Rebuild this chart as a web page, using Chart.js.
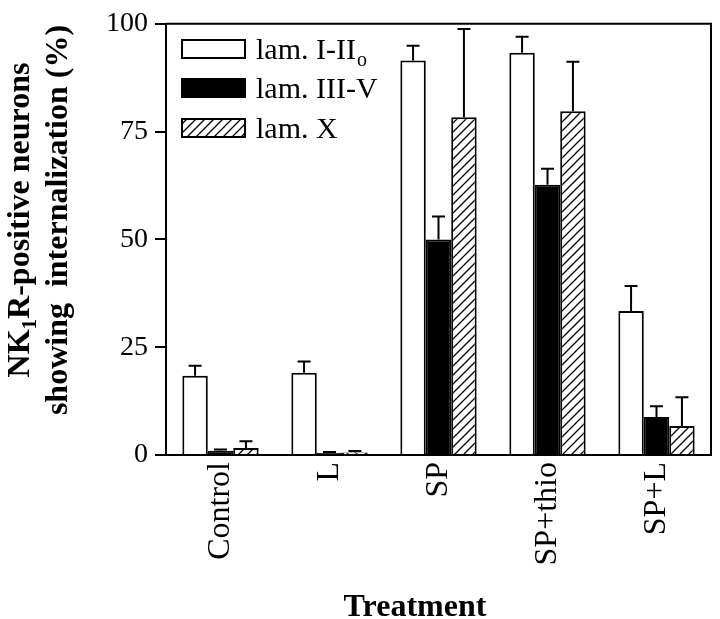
<!DOCTYPE html>
<html>
<head>
<meta charset="utf-8">
<script src="https://cdn.jsdelivr.net/npm/chart.js@4.4.0/dist/chart.umd.min.js"></script>
<style>
body { margin: 0; background: #fff; }
#wrap { width: 720px; height: 619px; }
</style>
</head>
<body>
<div id="wrap"><canvas id="myChart"></canvas></div>
<script>
// datos
var treatments = ['Control', 'L', 'SP', 'SP+thio', 'SP+L'];
var lamI = [18.4, 19.1, 91.5, 93.3, 33.4];
var lamIErr = [2.3, 2.6, 3.4, 3.7, 5.8];
var lamIII = [1.0, 0.5, 50.0, 62.7, 8.8];
var lamIIIErr = [0.3, 0.2, 5.3, 3.7, 2.5];
var lamX = [1.6, 0.6, 78.3, 79.7, 6.7];
var lamXErr = [1.6, 0.3, 20.5, 11.5, 6.7];
var yTicks = [0, 25, 50, 75, 100];
var seriesNames = ['lam. I-II', 'lam. III-V', 'lam. X'];
var seriesSubs = ['o', '', ''];

var serif = "'Liberation Serif', 'Times New Roman', serif";

// patron rayado
function makeHatch() {
    var c = document.createElement('canvas');
    c.width = 9; c.height = 9;
    var g = c.getContext('2d');
    g.fillStyle = '#fff';
    g.fillRect(0, 0, 9, 9);
    g.strokeStyle = '#000';
    g.lineWidth = 1.3;
    g.beginPath();
    g.moveTo(0, 9); g.lineTo(9, 0);
    g.moveTo(-1, 1); g.lineTo(1, -1);
    g.moveTo(8, 10); g.lineTo(10, 8);
    g.stroke();
    return g.createPattern(c, 'repeat');
}
var hatch = makeHatch();
var fills = ['#fff', '#000', hatch];
var errs = [lamIErr, lamIIIErr, lamXErr];

var extras = {
    id: 'extras',
    afterDatasetsDraw: function (chart) {
        var ctx = chart.ctx;
        var y = chart.scales.y;
        ctx.save();
        ctx.strokeStyle = '#000';
        ctx.lineWidth = 2;
        chart.data.datasets.forEach(function (ds, i) {
            var meta = chart.getDatasetMeta(i);
            meta.data.forEach(function (bar, j) {
                var top = y.getPixelForValue(ds.data[j] + errs[i][j]);
                ctx.beginPath();
                ctx.moveTo(bar.x, bar.y);
                ctx.lineTo(bar.x, top);
                ctx.moveTo(bar.x - 6.5, top);
                ctx.lineTo(bar.x + 6.5, top);
                ctx.stroke();
            });
        });
        ctx.restore();
    },
    afterDraw: function (chart) {
        var ctx = chart.ctx;
        var a = chart.chartArea;
        ctx.save();
        // marco
        ctx.strokeStyle = '#000';
        ctx.lineWidth = 2;
        ctx.beginPath();
        ctx.moveTo(a.left, a.top);
        ctx.lineTo(a.right, a.top);
        ctx.lineTo(a.right, a.bottom);
        ctx.stroke();

        // leyenda
        var rows = [49, 88, 128];
        ctx.fillStyle = '#000';
        for (var i = 0; i < 3; i++) {
            ctx.fillStyle = fills[i];
            ctx.fillRect(182, rows[i] - 9, 63, 18);
            ctx.strokeRect(182, rows[i] - 9, 63, 18);
            ctx.fillStyle = '#000';
            ctx.font = '30px ' + serif;
            ctx.textBaseline = 'alphabetic';
            ctx.textAlign = 'left';
            ctx.fillText(seriesNames[i], 256, rows[i] + 10);
            if (seriesSubs[i]) {
                var w = ctx.measureText(seriesNames[i]).width;
                ctx.font = '20px ' + serif;
                ctx.fillText(seriesSubs[i], 256 + w + 1, rows[i] + 17);
            }
        }

        // titulo eje x
        ctx.font = 'bold 32px ' + serif;
        ctx.textAlign = 'center';
        ctx.fillText('Treatment', 415, 616);

        // titulo eje y (con subindice)
        ctx.translate(0, 220);
        ctx.rotate(-Math.PI / 2);
        ctx.font = 'bold 32px ' + serif;
        var p1 = 'NK', p2 = 'R-positive neurons';
        var w1 = ctx.measureText(p1).width;
        var w3 = ctx.measureText(p2).width;
        ctx.font = 'bold 21px ' + serif;
        var w2 = ctx.measureText('1').width;
        var total = w1 + w2 + w3;
        var x0 = -total / 2;
        ctx.textAlign = 'left';
        ctx.font = 'bold 32px ' + serif;
        ctx.fillText(p1, x0, 29);
        ctx.font = 'bold 21px ' + serif;
        ctx.fillText('1', x0 + w1, 36);
        ctx.font = 'bold 32px ' + serif;
        ctx.fillText(p2, x0 + w1 + w2, 29);
        ctx.textAlign = 'center';
        ctx.fillText('showing  internalization (%)', 0, 67);
        ctx.restore();
    }
};

var ctx = document.getElementById('myChart').getContext('2d');
var chart = new Chart(ctx, {
    type: 'bar',
    data: {
        labels: treatments,
        datasets: [
            { label: seriesNames[0], data: lamI, backgroundColor: fills[0], borderColor: '#000', borderWidth: 2 },
            { label: seriesNames[1], data: lamIII, backgroundColor: fills[1], borderColor: '#000', borderWidth: 2 },
            { label: seriesNames[2], data: lamX, backgroundColor: fills[2], borderColor: '#000', borderWidth: 2 }
        ]
    },
    options: {
        responsive: true,
        maintainAspectRatio: false,
        animation: false,
        layout: { padding: { top: 21, right: 9, left: 0, bottom: 0 } },
        datasets: { bar: { barPercentage: 1, categoryPercentage: 0.7 } },
        plugins: { legend: { display: false }, tooltip: { enabled: false } },
        scales: {
            x: {
                grid: { display: false, drawTicks: false },
                border: { display: true, color: '#000', width: 2 },
                ticks: {
                    color: '#000', font: { family: serif, size: 32 },
                    minRotation: 90, maxRotation: 90, autoSkip: false, padding: 7
                },
                afterFit: function (s) { s.height = 164; }
            },
            y: {
                min: 0, max: 100,
                grid: { drawOnChartArea: false, drawTicks: true, tickLength: 11, color: '#000', lineWidth: 2 },
                border: { display: true, color: '#000', width: 2 },
                afterBuildTicks: function (s) { s.ticks = yTicks.map(function (v) { return { value: v }; }); },
                ticks: { color: '#000', font: { family: serif, size: 28 }, padding: 7 },
                afterFit: function (s) { s.width = 166; }
            }
        }
    },
    plugins: [extras]
});
</script>
</body>
</html>
